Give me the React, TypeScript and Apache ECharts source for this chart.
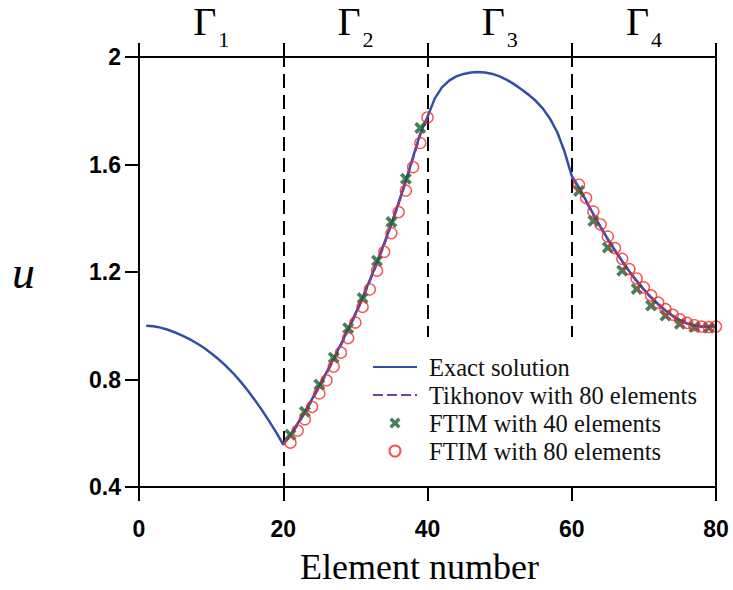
import React, { useEffect, useRef } from 'react';
import * as echarts from 'echarts';

const xMin = 0;
const xMax = 80;
const xStep = 20;
const yMin = 0.4;
const yMax = 2;
const yStep = 0.4;
const boundaries = [20, 40, 60];
const gammaCenters = [10, 30, 50, 70];
const gammaSubs = ['1', '2', '3', '4'];

const exactE = [
  1, 2, 3, 4, 5, 6, 7, 8, 9, 10, 11, 12, 13, 14, 15, 16, 17, 18, 19, 20,
  21, 22, 23, 24, 25, 26, 27, 28, 29, 30, 31, 32, 33, 34, 35, 36, 37, 38, 39, 40,
  41, 42, 43, 44, 45, 46, 47, 48, 49, 50, 51, 52, 53, 54, 55, 56, 57, 58, 59, 60,
  61, 62, 63, 64, 65, 66, 67, 68, 69, 70, 71, 72, 73, 74, 75, 76, 77, 78, 79, 80,
];
const exactU = [
  1.0, 0.998, 0.993, 0.985, 0.975, 0.963, 0.95, 0.935, 0.918, 0.898,
  0.876, 0.852, 0.825, 0.795, 0.762, 0.726, 0.688, 0.647, 0.604, 0.558,
  0.595, 0.637, 0.68, 0.728, 0.777, 0.827, 0.878, 0.932, 0.988, 1.045,
  1.105, 1.17, 1.237, 1.307, 1.38, 1.458, 1.54, 1.628, 1.715, 1.778,
  1.845, 1.887, 1.912, 1.928, 1.937, 1.942, 1.944, 1.942, 1.937, 1.928,
  1.915, 1.899, 1.88, 1.86, 1.837, 1.808, 1.77, 1.72, 1.648, 1.558,
  1.515, 1.465, 1.415, 1.368, 1.322, 1.28, 1.24, 1.202, 1.167, 1.135,
  1.106, 1.08, 1.057, 1.037, 1.021, 1.009, 1.001, 0.997, 0.996, 0.998,
];

const tikAE = [20, 21, 22, 23, 24, 25, 26, 27, 28, 29, 30, 31, 32, 33, 34, 35, 36, 37, 38, 39, 40];
const tikAU = [
  0.56, 0.59, 0.632, 0.676, 0.724, 0.773, 0.823, 0.874, 0.928, 0.984, 1.041,
  1.101, 1.166, 1.233, 1.303, 1.377, 1.455, 1.537, 1.625, 1.712, 1.772,
];
const tikBE = [60, 61, 62, 63, 64, 65, 66, 67, 68, 69, 70, 71, 72, 73, 74, 75, 76, 77, 78, 79, 80];
const tikBU = [
  1.555, 1.512, 1.462, 1.413, 1.366, 1.321, 1.279, 1.239, 1.201, 1.166, 1.134,
  1.105, 1.079, 1.056, 1.036, 1.02, 1.008, 1.0, 0.996, 0.995, 0.998,
];

const ftim40E = [21, 23, 25, 27, 29, 31, 33, 35, 37, 39, 61, 63, 65, 67, 69, 71, 73, 75, 77, 79];
const ftim40U = [
  0.594, 0.68, 0.781, 0.881, 0.991, 1.103, 1.242, 1.386, 1.547, 1.736,
  1.501, 1.39, 1.291, 1.205, 1.137, 1.075, 1.038, 1.007, 0.995, 0.993,
];

const ftim80E = [
  21, 22, 23, 24, 25, 26, 27, 28, 29, 30, 31, 32, 33, 34, 35, 36, 37, 38, 39, 40,
  61, 62, 63, 64, 65, 66, 67, 68, 69, 70, 71, 72, 73, 74, 75, 76, 77, 78, 79, 80,
];
const ftim80U = [
  0.565, 0.61, 0.652, 0.698, 0.748, 0.797, 0.848, 0.9, 0.954, 1.012,
  1.07, 1.135, 1.205, 1.275, 1.345, 1.423, 1.503, 1.59, 1.68, 1.775,
  1.525, 1.475, 1.425, 1.377, 1.332, 1.289, 1.249, 1.211, 1.176, 1.143,
  1.113, 1.086, 1.062, 1.041, 1.024, 1.011, 1.002, 0.997, 0.995, 0.997,
];

const pairs = (xs: number[], ys: number[]) => xs.map((x, i) => [x, ys[i]]);

const X_SYMBOL = 'path://M2.2,0L5,2.8L7.8,0L10,2.2L7.2,5L10,7.8L7.8,10L5,7.2L2.2,10L0,7.8L2.8,5L0,2.2Z';

const BLACK = '#000';
const axisLineStyle = { color: BLACK, width: 2 };
const hiddenSymbol = { color: 'rgba(0,0,0,0)', borderColor: 'rgba(0,0,0,0)', borderWidth: 0, opacity: 0 };

export default function App() {
  const ref = useRef<HTMLDivElement>(null);

  useEffect(() => {
    if (!ref.current) return;
    const chart = echarts.init(ref.current, undefined, { renderer: 'svg' });

    const option: any = {
      animation: false,
      backgroundColor: '#fff',
      grid: { left: 139, right: 17, top: 57, bottom: 100, containLabel: false },
      xAxis: [
        {
          type: 'value', min: xMin, max: xMax, interval: xStep, position: 'bottom',
          axisLine: { show: true, onZero: false, lineStyle: axisLineStyle },
          axisTick: { show: true, inside: false, length: 14, lineStyle: axisLineStyle },
          axisLabel: {
            margin: 30, fontSize: 23, fontWeight: 'bold', fontFamily: 'Liberation Sans', color: BLACK,
          },
          splitLine: { show: false },
          name: 'Element number', nameLocation: 'middle', nameGap: 62,
          nameTextStyle: {
            fontSize: 36, fontFamily: 'Liberation Serif', color: BLACK, padding: [0, 16, 0, 0],
          },
          z: 8,
        },
        {
          type: 'value', min: xMin, max: xMax, interval: xStep, position: 'top',
          axisLine: { show: true, onZero: false, lineStyle: axisLineStyle },
          axisTick: { show: true, inside: false, length: 14, lineStyle: axisLineStyle },
          axisLabel: { show: false },
          splitLine: { show: false },
          z: 8,
        },
      ],
      yAxis: [
        {
          type: 'value', min: yMin, max: yMax, interval: yStep, position: 'left',
          axisLine: { show: true, onZero: false, lineStyle: axisLineStyle },
          axisTick: { show: true, inside: false, length: 14, lineStyle: axisLineStyle },
          axisLabel: {
            margin: 18, fontSize: 23, fontWeight: 'bold', fontFamily: 'Liberation Sans', color: BLACK,
            formatter: (v: number) => String(Number(v.toFixed(2))),
          },
          splitLine: { show: false },
          name: 'u', nameLocation: 'middle', nameRotate: 0, nameGap: 104,
          nameTextStyle: { fontSize: 46, fontStyle: 'italic', fontFamily: 'Liberation Serif', color: BLACK },
          z: 8,
        },
        {
          type: 'value', min: yMin, max: yMax, interval: yStep, position: 'right',
          axisLine: { show: true, onZero: false, lineStyle: axisLineStyle },
          axisTick: { show: false },
          axisLabel: { show: false },
          splitLine: { show: false },
          z: 8,
        },
      ],
      legend: {
        orient: 'vertical',
        left: 366,
        top: 337,
        padding: [17.5, 8, 24, 6],
        backgroundColor: '#fff',
        itemWidth: 44,
        itemHeight: 11,
        itemGap: 3,
        selectedMode: false,
        z: 7,
        textStyle: {
          fontSize: 24.5, lineHeight: 24.5, fontFamily: 'Liberation Serif', color: '#111',
          padding: [0, 0, 0, 7],
        },
        data: [
          { name: 'Exact solution', itemStyle: hiddenSymbol },
          { name: 'Tikhonov with 80 elements', itemStyle: hiddenSymbol },
          { name: 'FTIM with 40 elements' },
          { name: 'FTIM with 80 elements' },
        ],
      },
      series: [
        {
          name: 'Exact solution', type: 'line', symbol: 'none', showSymbol: false,
          data: pairs(exactE, exactU),
          lineStyle: { color: '#2F4FA6', width: 2.5 },
          itemStyle: { color: '#2F4FA6' },
          markLine: {
            silent: true, symbol: ['none', 'none'], label: { show: false },
            lineStyle: { color: BLACK, type: [14, 7], width: 2 },
            emphasis: { disabled: true },
            z: 1,
            data: boundaries.map((b) => ({ xAxis: b })),
          },
          z: 2,
        },
        {
          name: 'Tikhonov with 80 elements', type: 'line', symbol: 'none', showSymbol: false,
          data: pairs(tikAE, tikAU),
          lineStyle: { color: '#7B3F9E', width: 2.5, type: [10, 4] },
          itemStyle: { color: '#7B3F9E' },
          z: 3,
        },
        {
          name: 'Tikhonov with 80 elements', type: 'line', symbol: 'none', showSymbol: false,
          data: pairs(tikBE, tikBU),
          lineStyle: { color: '#7B3F9E', width: 2.5, type: [10, 4] },
          itemStyle: { color: '#7B3F9E' },
          z: 3,
        },
        {
          name: 'FTIM with 40 elements', type: 'scatter', symbol: X_SYMBOL, symbolSize: 12,
          data: pairs(ftim40E, ftim40U),
          itemStyle: { color: '#19612F' },
          z: 4,
        },
        {
          name: 'FTIM with 80 elements', type: 'scatter', symbol: 'circle', symbolSize: 11,
          data: pairs(ftim80E, ftim80U),
          itemStyle: { color: 'rgba(0,0,0,0)', borderColor: '#EE2A2A', borderWidth: 1.4 },
          z: 5,
        },
      ],
    };

    chart.setOption(option);

    const graphics = gammaCenters.map((c, i) => {
      const [px, py] = chart.convertToPixel({ gridIndex: 0 }, [c, yMax]) as number[];
      return {
        type: 'group',
        children: [
          {
            type: 'text', x: px - 18, y: py - 35.5,
            style: {
              text: 'Γ', fontSize: 40, fontFamily: 'Liberation Serif', fill: BLACK,
              align: 'left', verticalAlign: 'middle', textAlign: 'left', textVerticalAlign: 'middle',
            },
          },
          {
            type: 'text', x: px + 7, y: py - 18,
            style: {
              text: gammaSubs[i], fontSize: 22, fontFamily: 'Liberation Serif', fill: BLACK,
              align: 'left', verticalAlign: 'middle', textAlign: 'left', textVerticalAlign: 'middle',
            },
          },
        ],
      };
    });
    chart.setOption({ graphic: graphics });

    return () => chart.dispose();
  }, []);

  return (
    <div
      ref={ref}
      style={{ position: 'fixed', left: 0, top: 0, width: 733, height: 590, background: '#fff' }}
    />
  );
}
